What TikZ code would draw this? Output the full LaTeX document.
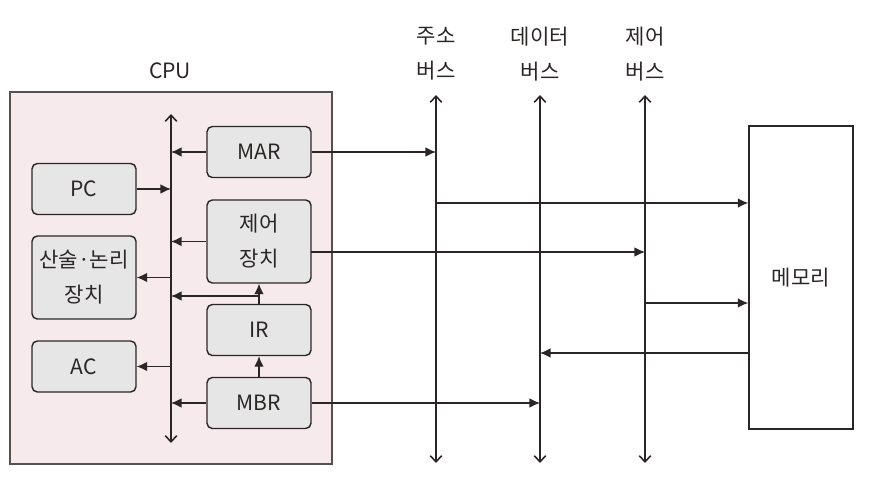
\documentclass[tikz,border=0pt]{standalone}
\usepackage{fontspec}
\setmainfont{Noto Sans CJK KR}
\usetikzlibrary{arrows.meta}

\definecolor{cpupink}{HTML}{F7EAED}
\definecolor{boxgray}{HTML}{E6E6E6}
\definecolor{ink}{HTML}{2B2626}

\tikzset{
	unit/.style = {draw = ink, line width = 0.8pt, fill = boxgray, rounded corners = 3pt, minimum width = 2.08cm, minimum height = 1.02cm, align = center, inner sep = 0pt},
	tallunit/.style = {unit, minimum height = 1.66cm},
	arr/.style = {draw = ink, line width = 0.8pt, -{Latex[length = 6pt, width = 5.5pt]}},
	bus/.style = {draw = ink, line width = 0.9pt, {Straight Barb[length = 3.5pt, width = 6.5pt]}-{Straight Barb[length = 3.5pt, width = 6.5pt]}},
	label/.style = {align = center, inner sep = 0pt}
}

\begin{document}
\begin{tikzpicture}[x = 0.02cm, y = -0.02cm, font = \fontsize{12}{20}\selectfont, text = ink]

	\useasboundingbox (0, 0) rectangle (882, 496);

	% CPU
	
	\draw [fill = cpupink, draw = ink!80, line width = 0.8pt] (10, 92) rectangle (332, 464);
	\node [label] (cpu) at (170, 71) {CPU};
	
	\node [unit] (mar) at (259, 152) {MAR};
	\node [unit] (pc) at (84, 189) {PC};
	\node [tallunit] (cu) at (259, 241.5) {제어\\장치};
	\node [tallunit] (alu) at (84, 277.5) {산술·논리\\장치};
	\node [unit] (ir) at (259, 330) {IR};
	\node [unit] (ac) at (84, 366.5) {AC};
	\node [unit] (mbr) at (259, 403) {MBR};
	
	% Internal bus
	
	\coordinate (ibtop) at (171, 114);
	\coordinate (ibbot) at (171, 443);
	\coordinate (irtap) at (259, 296);
	\draw [bus] (ibbot) -- (ibtop);
	
	\draw [arr] (mar) -- (mar -| ibtop);
	\draw [arr] (pc) -- (pc -| ibtop);
	\draw [arr] (cu) -- (cu -| ibtop);
	\draw [arr] (alu -| ibtop) -- (alu);
	\draw [arr] (ir) -- (cu);
	\draw [arr] (irtap) -- (irtap -| ibtop);
	\draw [arr] (mbr) -- (ir);
	\draw [arr] (mbr) -- (mbr -| ibtop);
	\draw [arr] (ac -| ibtop) -- (ac);
	
	% System buses
	
	\coordinate (abtop) at (436, 95);
	\coordinate (abbot) at (436, 463);
	\coordinate (dbtop) at (540, 95);
	\coordinate (dbbot) at (540, 463);
	\coordinate (cbtop) at (645, 95);
	\coordinate (cbbot) at (645, 463);
	
	\draw [bus] (abbot) -- (abtop);
	\draw [bus] (dbbot) -- (dbtop);
	\draw [bus] (cbbot) -- (cbtop);
	
	\node [label] (ablabel) at (436, 54) {주소\\버스};
	\node [label] (dblabel) at (540, 54) {데이터\\버스};
	\node [label] (cblabel) at (645, 54) {제어\\버스};
	
	% Memory
	
	\node [draw = ink, line width = 0.8pt, minimum width = 2.08cm, minimum height = 6.06cm, inner sep = 0pt] (mem) at (801, 277.5) {메모리};
	
	% Connections
	
	\coordinate (abtap) at (436, 203);
	\coordinate (cuout) at (311, 252);
	\coordinate (cbtap) at (645, 303);
	\coordinate (memout) at (749, 353);
	
	\draw [arr] (mar) -- (mar -| abtop);
	\draw [arr] (abtap) -- (abtap -| mem.west);
	\draw [arr] (cuout) -- (cuout -| cbtop);
	\draw [arr] (cbtap) -- (cbtap -| mem.west);
	\draw [arr] (memout) -- (memout -| dbtop);
	\draw [arr] (mbr) -- (mbr -| dbtop);

\end{tikzpicture}
\end{document}
